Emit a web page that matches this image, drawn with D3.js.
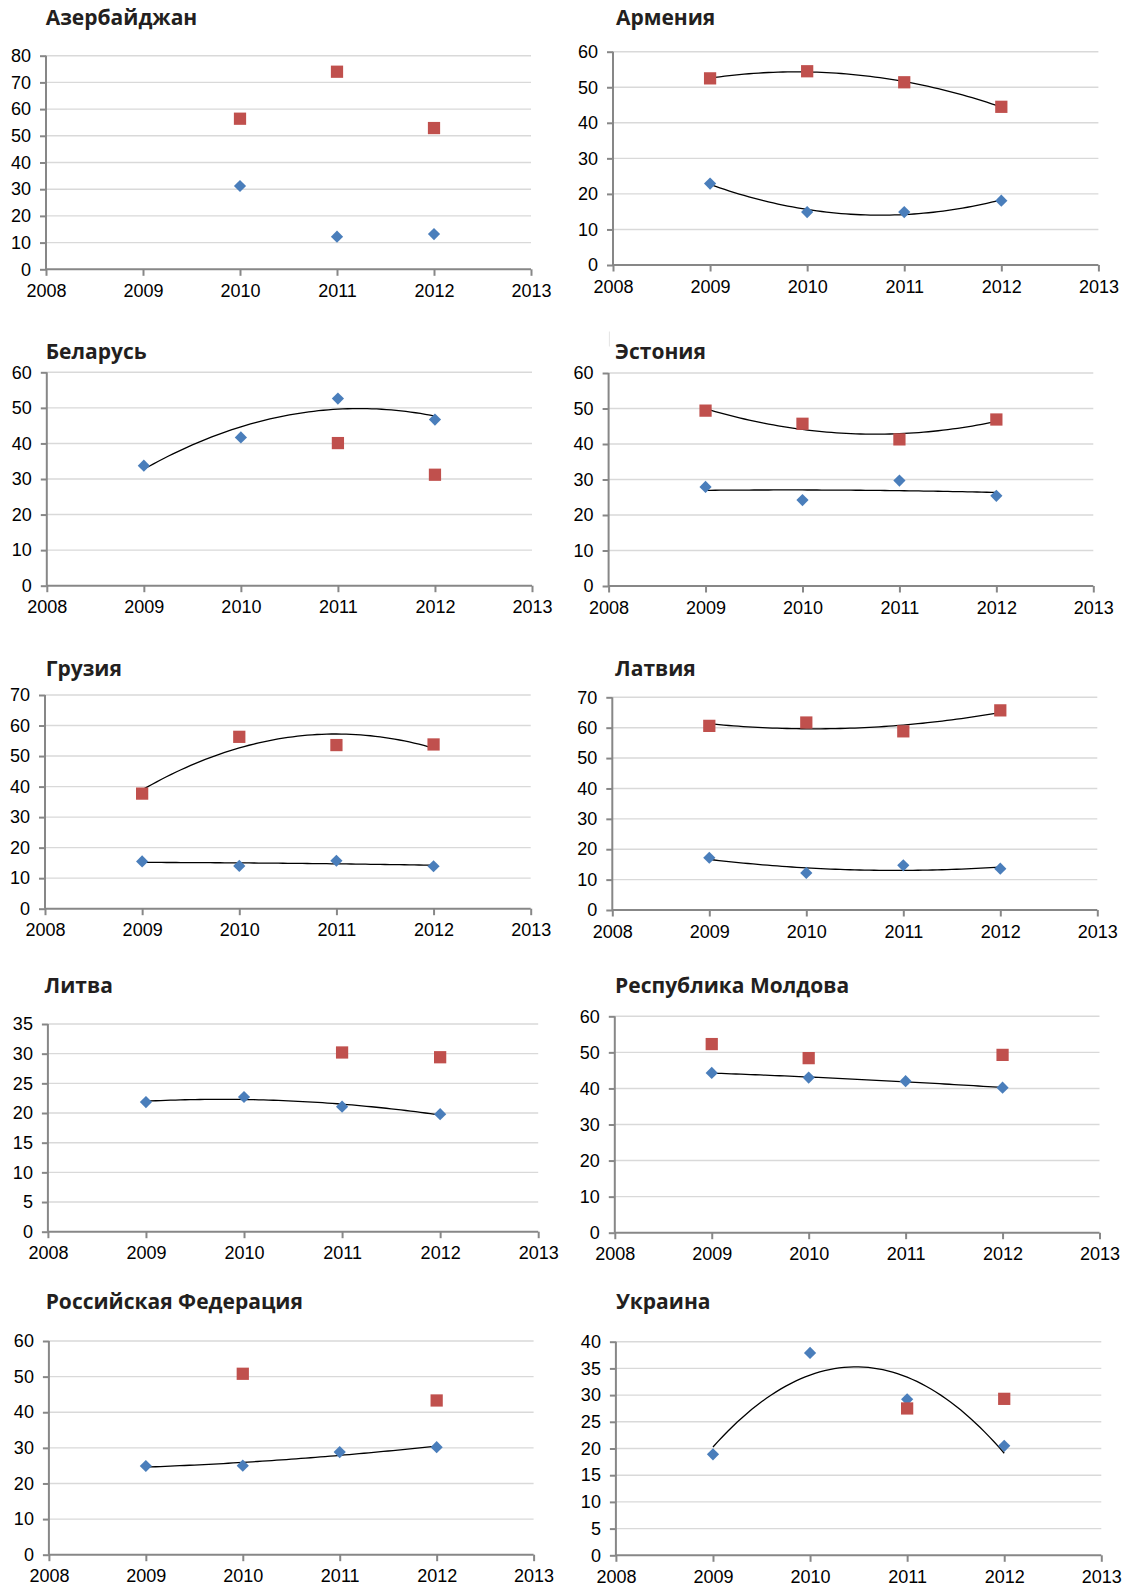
<!DOCTYPE html>
<html>
<head>
<meta charset="utf-8">
<script src="https://cdn.jsdelivr.net/npm/d3@7"></script>
<style>
  html, body { margin: 0; padding: 0; background: #fff; }
  svg { display: block; }
  .tick text { font-family: "Liberation Sans", Arial, sans-serif; font-size: 18px; fill: #000; }
  .title { font-family: "Open Sans", "Noto Sans", sans-serif; font-weight: 700; font-size: 21px; fill: #231f20; }
</style>
</head>
<body>
<svg id="chart" width="1125" height="1589"></svg>
<script>
// Axis years and the years that carry observations
const axisYears = [2008, 2009, 2010, 2011, 2012, 2013];
const dataYears = [2009, 2010, 2011, 2012];

// Panel titles
const countries = [
  "Азербайджан", "Армения", "Беларусь", "Эстония", "Грузия",
  "Латвия", "Литва", "Республика Молдова", "Российская Федерация", "Украина"
];

// Y-axis maximum and step for each panel
const yMax  = [80, 60, 60, 60, 70, 70, 35, 60, 60, 40];
const yStep = [10, 10, 10, 10, 10, 10, 5, 10, 10, 5];

// Blue series (diamonds), values for 2009–2012; null = no observation
const azerbaijanBlue = [null, 31.2, 12.2, 13.2];
const armeniaBlue    = [22.9, 14.9, 14.9, 18.1];
const belarusBlue    = [33.75, 41.7, 52.6, 46.7];
const estoniaBlue    = [27.9, 24.2, 29.7, 25.4];
const georgiaBlue    = [15.5, 14.0, 15.7, 13.9];
const latviaBlue     = [17.2, 12.2, 14.7, 13.6];
const lithuaniaBlue  = [21.85, 22.7, 21.07, 19.8];
const moldovaBlue    = [44.3, 43.0, 42.0, 40.2];
const russiaBlue     = [24.9, 25.0, 28.8, 30.2];
const ukraineBlue    = [18.9, 37.9, 29.2, 20.5];

// Red series (squares), values for 2009–2012; null = no observation
const azerbaijanRed = [null, 56.4, 74.0, 52.9];
const armeniaRed    = [52.5, 54.5, 51.4, 44.5];
const belarusRed    = [null, null, 40.1, 31.2];
const estoniaRed    = [49.4, 45.7, 41.3, 46.9];
const georgiaRed    = [37.7, 56.3, 53.6, 53.8];
const latviaRed     = [60.6, 61.7, 58.8, 65.7];
const lithuaniaRed  = [null, null, 30.2, 29.4];
const moldovaRed    = [52.3, 48.4, null, 49.3];
const russiaRed     = [null, 50.8, null, 43.3];
const ukraineRed    = [null, null, 27.5, 29.3];

const blueSeries = [azerbaijanBlue, armeniaBlue, belarusBlue, estoniaBlue, georgiaBlue,
                    latviaBlue, lithuaniaBlue, moldovaBlue, russiaBlue, ukraineBlue];
const redSeries  = [azerbaijanRed, armeniaRed, belarusRed, estoniaRed, georgiaRed,
                    latviaRed, lithuaniaRed, moldovaRed, russiaRed, ukraineRed];

// Plot-area geometry of each panel: axis x, right edge, top, bottom, title position
const layout = [
  { x0: 46,    x1: 531,    y0: 55.7,   y1: 269.3,  tx: 45.7,  ty: 25 },
  { x0: 613,   x1: 1098.4, y0: 51.7,   y1: 265,    tx: 615.9, ty: 25 },
  { x0: 46.8,  x1: 532,    y0: 372.3,  y1: 585.7,  tx: 45.7,  ty: 359.3 },
  { x0: 608.6, x1: 1093.3, y0: 373,    y1: 586,    tx: 615.1, ty: 359 },
  { x0: 45,    x1: 530.7,  y0: 695,    y1: 908.7,  tx: 45.7,  ty: 675.7 },
  { x0: 612.3, x1: 1097.3, y0: 697.3,  y1: 910,    tx: 615.1, ty: 675.7 },
  { x0: 47.9,  x1: 538.2,  y0: 1024,   y1: 1231.7, tx: 44.6,  ty: 992.7 },
  { x0: 614.8, x1: 1099.5, y0: 1016.3, y1: 1232.7, tx: 615.1, ty: 992.7 },
  { x0: 48.9,  x1: 533.6,  y0: 1341,   y1: 1554.7, tx: 45.7,  ty: 1309.3 },
  { x0: 615.9, x1: 1101.3, y0: 1341.7, y1: 1555.3, tx: 615.9, ty: 1309.3 }
];

const BLUE = "#4a7ebb", RED = "#c0504d", GRID = "#d9d9d9", AXIS = "#878787";

// Least-squares quadratic trend through the observed points
function quadFit(xs, ys) {
  let S = [0, 0, 0, 0, 0], T = [0, 0, 0];
  xs.forEach((x, i) => {
    for (let k = 0; k <= 4; k++) S[k] += Math.pow(x, k);
    for (let k = 0; k <= 2; k++) T[k] += Math.pow(x, k) * ys[i];
  });
  const A = [[S[0], S[1], S[2], T[0]], [S[1], S[2], S[3], T[1]], [S[2], S[3], S[4], T[2]]];
  for (let c = 0; c < 3; c++) {
    for (let r = c + 1; r < 3; r++) {
      const f = A[r][c] / A[c][c];
      for (let k = c; k < 4; k++) A[r][k] -= f * A[c][k];
    }
  }
  const coef = [0, 0, 0];
  for (let r = 2; r >= 0; r--) {
    let s = A[r][3];
    for (let k = r + 1; k < 3; k++) s -= A[r][k] * coef[k];
    coef[r] = s / A[r][r];
  }
  return x => coef[0] + coef[1] * x + coef[2] * x * x;
}

const svg = d3.select("#chart");

// faint frame edge left above the Estonia panel
svg.append("line").attr("x1", 609.4).attr("x2", 609.4).attr("y1", 331.5).attr("y2", 346.5)
  .attr("stroke", "#e4e4e4").attr("stroke-width", 1);

countries.forEach((name, i) => {
  const L = layout[i];
  const x = d3.scaleLinear().domain([2008, 2013]).range([L.x0, L.x1]);
  const y = d3.scaleLinear().domain([0, yMax[i]]).range([L.y1, L.y0]);
  const g = svg.append("g");

  g.append("text").attr("class", "title").attr("x", L.tx).attr("y", L.ty).text(name);

  const yTicks = d3.range(0, yMax[i] + 0.001, yStep[i]);

  // horizontal gridlines
  g.append("g").selectAll("line").data(yTicks.filter(v => v > 0)).join("line")
    .attr("x1", L.x0).attr("x2", L.x1)
    .attr("y1", d => y(d)).attr("y2", d => y(d))
    .attr("stroke", GRID).attr("stroke-width", 1.4);

  // y axis
  const ya = g.append("g").attr("transform", `translate(${L.x0},0)`)
    .call(d3.axisLeft(y).tickValues(yTicks).tickSize(6).tickPadding(9).tickFormat(d3.format("d")));
  ya.selectAll("path, line").attr("stroke", AXIS).attr("stroke-width", 2);
  ya.select(".domain").attr("d", `M0,${L.y1}V${L.y0}`);

  // x axis
  const xa = g.append("g").attr("transform", `translate(0,${L.y1})`)
    .call(d3.axisBottom(x).tickValues(axisYears).tickSize(6.5).tickPadding(8.5).tickFormat(d3.format("d")));
  xa.selectAll("path, line").attr("stroke", AXIS).attr("stroke-width", 2);
  xa.select(".domain").attr("d", `M${L.x0},0H${L.x1}`);
  xa.selectAll("text").attr("dy", "0.71em");

  const series = [{ vals: blueSeries[i], color: BLUE, shape: d3.symbolDiamond2, size: 95 },
                  { vals: redSeries[i], color: RED, shape: d3.symbolSquare, size: 150 }];

  // quadratic trend lines for complete series
  series.forEach(s => {
    const pts = dataYears.map((yr, k) => [yr, s.vals[k]]).filter(p => p[1] !== null);
    if (pts.length < 4) return;
    const f = quadFit(pts.map(p => p[0] - 2009), pts.map(p => p[1]));
    const xs = d3.range(0, 3.0001, 0.05);
    g.append("path")
      .attr("d", d3.line().x(t => x(2009 + t)).y(t => y(f(t)))(xs))
      .attr("fill", "none").attr("stroke", "#000").attr("stroke-width", 1.3);
  });

  // markers
  series.forEach(s => {
    const pts = dataYears.map((yr, k) => [yr, s.vals[k]]).filter(p => p[1] !== null);
    g.append("g").selectAll("path").data(pts).join("path")
      .attr("transform", p => `translate(${x(p[0])},${y(p[1])})`)
      .attr("d", d3.symbol().type(s.shape).size(s.size))
      .attr("fill", s.color);
  });
});
</script>
</body>
</html>
